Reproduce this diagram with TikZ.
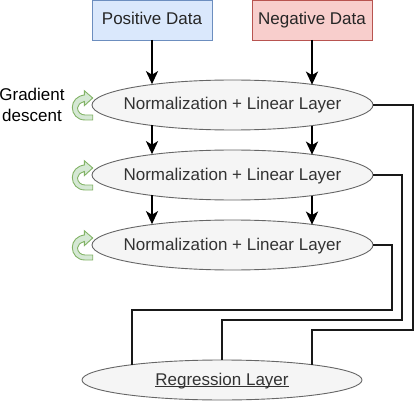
\documentclass[tikz,border=0pt]{standalone}
\usepackage{fontspec}
\setmainfont{Liberation Sans}
\usetikzlibrary{shapes.geometric,arrows.meta}
\definecolor{bluef}{HTML}{DAE8FC}\definecolor{blued}{HTML}{6C8EBF}
\definecolor{redf}{HTML}{F8CECC}\definecolor{redd}{HTML}{B85450}
\definecolor{greyf}{HTML}{F5F5F5}\definecolor{greyd}{HTML}{666666}\definecolor{greyt}{HTML}{333333}
\definecolor{greenf}{HTML}{D5E8D4}\definecolor{greend}{HTML}{82B366}
\tikzset{
 basefont/.style={font=\fontsize{17}{21}\selectfont},
 fixedline/.style={text height=12pt,text depth=2pt},
 databox/.style={rectangle,draw,basefont,fixedline,minimum width=120pt,minimum height=40pt,inner sep=0pt,outer sep=0pt,text=black!85,line width=0.8pt},
 layer/.style={ellipse,draw=greyd,fill=greyf,text=greyt,basefont,fixedline,minimum width=281pt,minimum height=50pt,inner sep=0pt,outer sep=0pt,line width=0.9pt},
 regress/.style={layer,minimum width=280pt,minimum height=40pt},
 flow/.style={draw=black,line width=2.3pt,-{Stealth[length=13pt,width=12pt,inset=3.5pt]}},
 link/.style={draw=black!90,line width=2.3pt},
 turn/.style={fill=greenf,draw=greend,line width=0.9pt,line join=miter},
}
\newcommand{\zerowide}[1]{\makebox[0pt][c]{#1}}
\newcommand{\baseunder}[1]{\setbox0\hbox{#1}\rlap{\rule[-1.6pt]{\wd0}{0.9pt}}\box0 }
\begin{document}
\begin{tikzpicture}[x=1pt,y=-1pt]
\useasboundingbox (0,0) rectangle (415,401);
\node[databox,fill=bluef,draw=blued] (pos) at (152,20) {Positive Data};
\node[databox,fill=redf,draw=redd] (neg) at (312,20) {Negative Data};
\node[layer] (e1) at (232.5,105) {\zerowide{Normalization + Linear Layer}};
\node[layer] (e2) at (232.5,175) {\zerowide{Normalization + Linear Layer}};
\node[layer] (e3) at (232.5,245) {\zerowide{Normalization + Linear Layer}};
\node[regress] (reg) at (222,380) {\zerowide{\baseunder{Regression Layer}}};
\node[basefont,align=center,inner sep=0pt] (gd) at (32,105) {Gradient\\descent};
\coordinate (c3) at (392,310);
\coordinate (c2) at (402,320);
\coordinate (c1) at (413,330);
\coordinate (f3) at (132,365);
\coordinate (f1) at (312,365);
\draw[flow] (pos.south) -- (pos.south |- e1.165.5);
\draw[flow] (neg.south) -- (neg.south |- e1.14.5);
\draw[flow] (pos.south |- e1.194.5) -- (pos.south |- e2.165.5);
\draw[flow] (neg.south |- e1.345.5) -- (neg.south |- e2.14.5);
\draw[flow] (pos.south |- e2.194.5) -- (pos.south |- e3.165.5);
\draw[flow] (neg.south |- e2.345.5) -- (neg.south |- e3.14.5);
\draw[link] (e3.east) -| (c3) -| (f3);
\draw[link] (e2.east) -| (c2) -| (reg.north);
\draw[link] (e1.east) -| (c1) -| (f1);
\foreach \dy in {0,70,140}{
 \begin{scope}[yshift=-\dy pt]
 \draw[turn] (84.3,95) -- (84.3,90.7) -- (92.7,98) -- (84.3,105.7) -- (84.3,101.5)
   .. controls (80,103) and (77.5,105) .. (77.5,108)
   .. controls (77.5,112) and (81,115) .. (85,115)
   -- (92.7,115) -- (92.7,120) -- (85,120)
   .. controls (77,120) and (72.3,114) .. (72.3,107.5)
   .. controls (72.3,101) and (77,96) .. (84.3,95) -- cycle;
 \end{scope}
}
\end{tikzpicture}
\end{document}
